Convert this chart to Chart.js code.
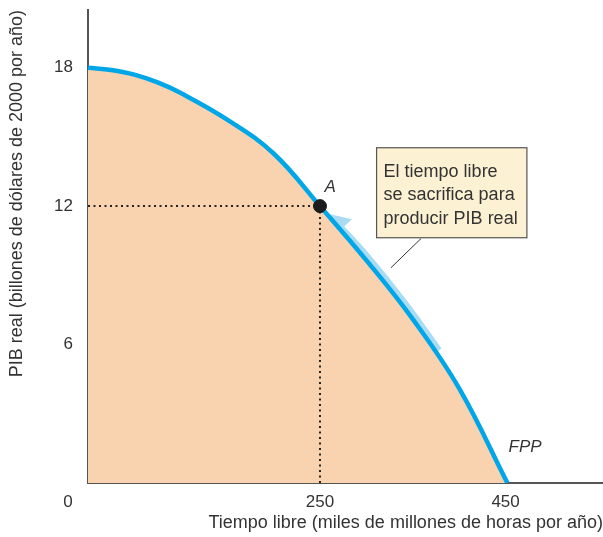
<!DOCTYPE html>
<html>
<head>
<meta charset="utf-8">
<script src="https://cdn.jsdelivr.net/npm/chart.js@4"></script>
<style>
body { margin: 0; background: #fff; }
</style>
</head>
<body>
<canvas id="chart1" width="603" height="537"></canvas>
<script>
// frontera de posibilidades de produccion
var xValues = [0, 25, 50, 75, 100, 150, 200, 250, 300, 350, 400, 452];
var yValues = [18, 17.9, 17.7, 17.36, 16.9, 15.75, 14.28, 12, 9.65, 7.1, 4.1, 0];
// flecha de sacrificio (a lo largo de la curva)
var arrowX = [266, 300, 340, 377];
var arrowY = [11.28, 9.78, 7.78, 5.72];
// punto A
var pointA = {x: 250, y: 12};
var xTicks = [250, 450];
var yTicks = [6, 12, 18];
var boxLines = ["El tiempo libre", "se sacrifica para", "producir PIB real"];

var FONT = "'Liberation Sans', sans-serif";

function curvePts(xs, ys) {
    var out = [];
    for (var i = 0; i < xs.length; i++) out.push({x: xs[i], y: ys[i]});
    return out;
}

var extras = {
    id: "extras",
    beforeDatasetsDraw: function(chart) {
        // arrowhead of the light blue band
        var ctx = chart.ctx, xs = chart.scales.x, ys = chart.scales.y;
        var p0 = {x: xs.getPixelForValue(arrowX[0]), y: ys.getPixelForValue(arrowY[0])};
        var p1 = {x: xs.getPixelForValue(arrowX[1]), y: ys.getPixelForValue(arrowY[1])};
        var dx = p0.x - p1.x, dy = p0.y - p1.y;
        var len = Math.sqrt(dx * dx + dy * dy);
        dx /= len; dy /= len;
        var tip = {x: p0.x + dx * 13, y: p0.y + dy * 13};
        var base = {x: p0.x - dx * 9, y: p0.y - dy * 9};
        ctx.save();
        ctx.fillStyle = "#a9dcf3";
        ctx.beginPath();
        ctx.moveTo(tip.x, tip.y);
        ctx.lineTo(base.x - dy * 15, base.y + dx * 15);
        ctx.lineTo(base.x + dy * 16, base.y - dx * 16);
        ctx.closePath();
        ctx.fill();
        ctx.restore();
    },
    afterDatasetsDraw: function(chart) {
        var ctx = chart.ctx, xs = chart.scales.x, ys = chart.scales.y;
        ctx.save();
        // leader line
        ctx.strokeStyle = "#333";
        ctx.lineWidth = 1;
        ctx.beginPath();
        ctx.moveTo(xs.getPixelForValue(359), ys.getPixelForValue(10.6));
        ctx.lineTo(xs.getPixelForValue(326.5), ys.getPixelForValue(9.33));
        ctx.stroke();
        // box
        var bl = xs.getPixelForValue(311), bt = ys.getPixelForValue(14.53);
        var br = xs.getPixelForValue(473), bb = ys.getPixelForValue(10.63);
        ctx.fillStyle = "#fdf1d4";
        ctx.fillRect(bl, bt, br - bl, bb - bt);
        ctx.strokeStyle = "#555";
        ctx.lineWidth = 1.2;
        ctx.strokeRect(bl, bt, br - bl, bb - bt);
        ctx.fillStyle = "#333";
        ctx.font = "18px " + FONT;
        ctx.textAlign = "left";
        ctx.textBaseline = "middle";
        for (var i = 0; i < boxLines.length; i++) {
            ctx.fillText(boxLines[i], bl + 7, bt + 24 + i * 23.5);
        }
        // labels
        ctx.font = "italic 17px " + FONT;
        ctx.textAlign = "center";
        ctx.fillText("A", xs.getPixelForValue(261), ys.getPixelForValue(12.8));
        ctx.fillText("FPP", xs.getPixelForValue(471), ys.getPixelForValue(1.56));
        // origin label
        ctx.font = "17px " + FONT;
        ctx.fillText("0", xs.getPixelForValue(0) - 20, ys.getPixelForValue(0) + 19);
        ctx.restore();
    }
};

new Chart("chart1", {
    type: "line",
    data: {
        datasets: [
            {
                data: [{x: 0, y: 12}, pointA],
                borderColor: "#222",
                borderWidth: 2,
                borderDash: [2, 3.5],
                pointRadius: 0,
                fill: false,
                order: 1
            },
            {
                data: [pointA, {x: 250, y: 0}],
                borderColor: "#222",
                borderWidth: 2,
                borderDash: [2, 3.5],
                pointRadius: 0,
                fill: false,
                order: 1
            },
            {
                data: [pointA],
                backgroundColor: "#1c1c1c",
                borderColor: "#1c1c1c",
                pointRadius: 6.5,
                showLine: false,
                order: 0
            },
            {
                data: curvePts(xValues, yValues),
                borderColor: "#00a7e8",
                borderWidth: 4.5,
                backgroundColor: "#f9d2af",
                fill: "origin",
                pointRadius: 0,
                tension: 0.4,
                order: 2
            },
            {
                data: curvePts(arrowX, arrowY),
                borderColor: "#a9dcf3",
                borderWidth: 9,
                pointRadius: 0,
                fill: false,
                tension: 0.4,
                order: 3
            }
        ]
    },
    options: {
        responsive: false,
        animation: false,
        layout: { autoPadding: false, padding: { top: 10, right: 0, left: 0, bottom: 0 } },
        plugins: {
            legend: { display: false },
            tooltip: { enabled: false }
        },
        scales: {
            x: {
                type: "linear",
                min: 0,
                max: 555,
                afterBuildTicks: function(s) { s.ticks = xTicks.map(function(v) { return {value: v}; }); },
                afterFit: function(s) { s.height = 54; s.paddingLeft = 0; s.paddingRight = 0; },
                grid: { display: false, drawTicks: false },
                border: { display: true, color: "#555", width: 2 },
                ticks: { color: "#333", font: { family: FONT, size: 17 }, padding: 9, maxRotation: 0 },
                title: {
                    display: true,
                    text: "Tiempo libre (miles de millones de horas por año)",
                    align: "end",
                    color: "#333",
                    font: { family: FONT, size: 18 },
                    padding: { top: 0, bottom: 3 }
                }
            },
            y: {
                type: "linear",
                min: 0,
                max: 20.5,
                afterBuildTicks: function(s) { s.ticks = yTicks.map(function(v) { return {value: v}; }); },
                afterFit: function(s) { s.width = 88; s.paddingTop = 0; s.paddingBottom = 0; },
                grid: { display: false, drawTicks: false },
                border: { display: true, color: "#555", width: 2 },
                ticks: { color: "#333", font: { family: FONT, size: 17 }, padding: 15 },
                title: {
                    display: true,
                    text: "PIB real (billones de dólares de 2000 por año)",
                    align: "end",
                    color: "#333",
                    font: { family: FONT, size: 18 },
                    padding: { top: 6, bottom: 0 }
                }
            }
        }
    },
    plugins: [extras]
});
</script>
</body>
</html>
